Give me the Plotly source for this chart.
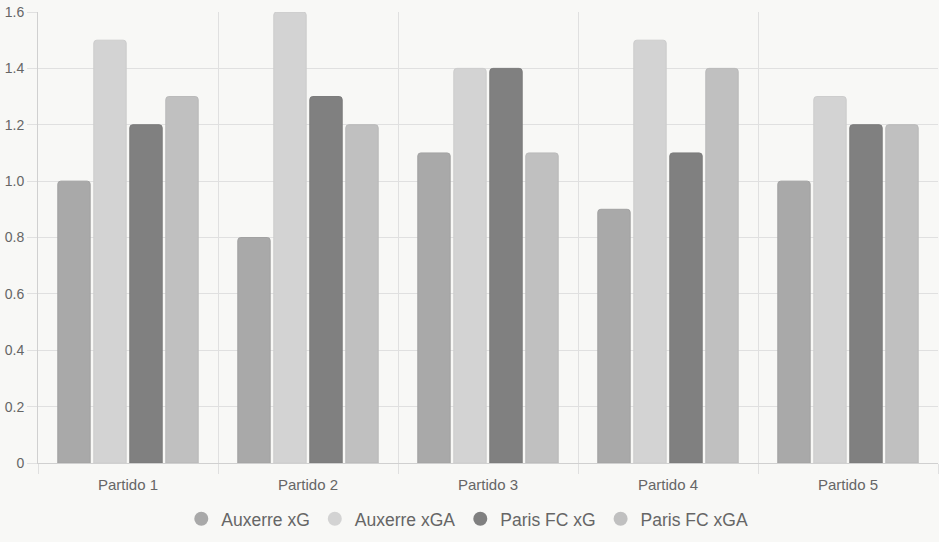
import plotly.graph_objects as go

categories = ["Partido 1", "Partido 2", "Partido 3", "Partido 4", "Partido 5"]
auxerre_xg = [1.0, 0.8, 1.1, 0.9, 1.0]
auxerre_xga = [1.5, 1.6, 1.4, 1.5, 1.3]
paris_xg = [1.2, 1.3, 1.4, 1.1, 1.2]
paris_xga = [1.3, 1.2, 1.1, 1.4, 1.2]
series_names = ["Auxerre xG", "Auxerre xGA", "Paris FC xG", "Paris FC xGA"]
series_values = [auxerre_xg, auxerre_xga, paris_xg, paris_xga]
colors = ["#a9a9a9", "#d3d3d3", "#808080", "#c0c0c0"]
borders = ["#a2a2a2", "#cccccc", "#7a7a7a", "#b9b9b9"]
y_ticks = [0, 0.2, 0.4, 0.6, 0.8, 1.0, 1.2, 1.4, 1.6]
y_ticktext = ["0", "0.2", "0.4", "0.6", "0.8", "1.0", "1.2", "1.4", "1.6"]

fig = go.Figure()
for name, vals, c, b in zip(series_names, series_values, colors, borders):
    fig.add_trace(go.Bar(
        x=categories, y=vals, name=name, showlegend=False,
        marker=dict(color=c, line=dict(color=b, width=1), cornerradius=3),
        hoverinfo="x+y+name",
    ))
for name, c in zip(series_names, colors):
    fig.add_trace(go.Scatter(
        x=[None], y=[None], mode="markers", name=name,
        marker=dict(symbol="circle", size=14, color=c),
    ))

font_family = "Arial"
fig.update_layout(
    width=939, height=542,
    margin=dict(l=38, r=1, t=12, b=79),
    paper_bgcolor="#f8f8f6", plot_bgcolor="#f8f8f6",
    barmode="group", bargap=0.2, bargroupgap=0.1,
    font=dict(family=font_family, color="#666666", size=14),
    legend=dict(orientation="h", x=0.477, xanchor="center", y=-0.124, yanchor="middle",
                font=dict(family=font_family, size=17.5, color="#666666"), itemwidth=30,
                bgcolor="rgba(0,0,0,0)"),
    xaxis=dict(
        tickson="boundaries", showgrid=True, gridcolor="#e0e0e0", gridwidth=1,
        ticks="outside", ticklen=10, tickcolor="#e0e0e0",
        showline=True, linecolor="#d0d0d0", linewidth=1,
        tickfont=dict(family=font_family, size=15, color="#666666"), fixedrange=True,
        ticklabelstandoff=8,
    ),
    yaxis=dict(
        range=[0, 1.6], tickvals=y_ticks, ticktext=y_ticktext,
        showgrid=True, gridcolor="#e0e0e0", gridwidth=1,
        ticks="outside", ticklen=10, tickcolor="#e0e0e0",
        showline=True, linecolor="#d0d0d0", linewidth=1,
        zeroline=False, tickfont=dict(family=font_family, size=14, color="#666666"),
        fixedrange=True,
    ),
)
fig.write_html("out.html")
